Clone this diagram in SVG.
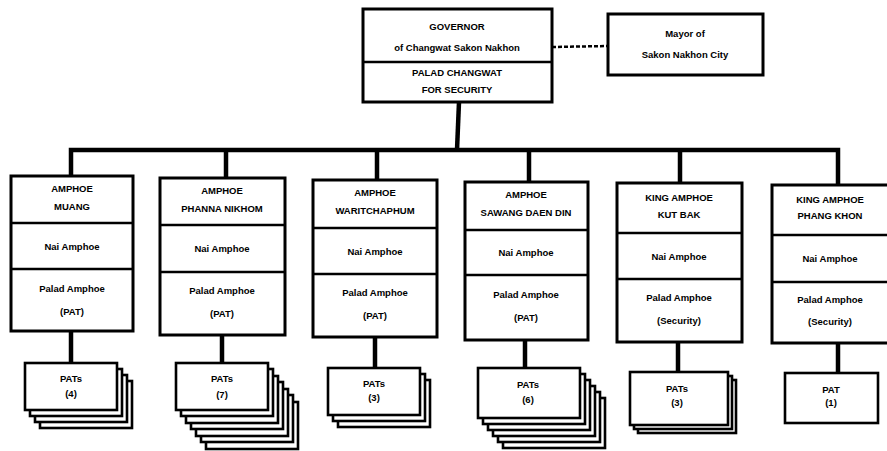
<svg xmlns="http://www.w3.org/2000/svg" width="887" height="451" viewBox="0 0 887 451">
<style>
.box{fill:#fff;stroke:#000;stroke-width:3}
.card{fill:#fff;stroke:#000;stroke-width:2.6}
.div{stroke:#000;stroke-width:2.6;fill:none}
.ln{stroke:#000;stroke-width:4.5;fill:none}
.dash{stroke:#000;stroke-width:2.5;stroke-dasharray:4 2;fill:none}
text{font-family:"Liberation Sans",Arial,sans-serif;font-weight:bold;font-size:9.5px;text-anchor:middle;fill:#000}
</style>
<rect width="887" height="451" fill="#fff"/>
<g id="connectors">
<line class="dash" x1="552" y1="47" x2="608" y2="46"/>
<line class="ln" x1="459" y1="102" x2="457" y2="150"/>
<polyline class="ln" points="71,176 71,150 838,150 838,185"/>
<line class="ln" x1="226" y1="150" x2="226" y2="178"/>
<line class="ln" x1="377" y1="150" x2="377" y2="180"/>
<line class="ln" x1="529" y1="150" x2="529" y2="182"/>
<line class="ln" x1="680" y1="150" x2="680" y2="183"/>
<line class="ln" x1="71" y1="331" x2="71" y2="363"/>
<line class="ln" x1="222" y1="335" x2="222" y2="363"/>
<line class="ln" x1="375" y1="337" x2="375" y2="368"/>
<line class="ln" x1="525" y1="340" x2="525" y2="368"/>
<line class="ln" x1="678" y1="342" x2="678" y2="372"/>
<line class="ln" x1="838" y1="343" x2="838" y2="373"/>
</g>
<g id="governor">
<rect class="box" x="363" y="9" width="189" height="93"/>
<line class="div" x1="363" y1="62" x2="552" y2="62"/>
<text x="457" y="30">GOVERNOR</text>
<text x="457" y="51">of Changwat Sakon Nakhon</text>
<text x="457" y="76">PALAD CHANGWAT</text>
<text x="457" y="93">FOR SECURITY</text>
</g>
<g id="mayor">
<rect class="box" x="608" y="14" width="155" height="61"/>
<text x="685" y="37">Mayor of</text>
<text x="685" y="58">Sakon Nakhon City</text>
</g>
<g id="amphoe-muang">
<rect class="box" x="11" y="176" width="122" height="155"/>
<line class="div" x1="11" y1="223" x2="133" y2="223"/>
<line class="div" x1="11" y1="269" x2="133" y2="269"/>
<text x="72" y="192">AMPHOE</text>
<text x="72" y="210">MUANG</text>
<text x="72" y="250">Nai Amphoe</text>
<text x="72" y="292">Palad Amphoe</text>
<text x="72" y="315">(PAT)</text>
</g>
<g id="amphoe-phanna">
<rect class="box" x="160" y="178" width="125" height="157"/>
<line class="div" x1="160" y1="225" x2="285" y2="225"/>
<line class="div" x1="160" y1="272" x2="285" y2="272"/>
<text x="222" y="194">AMPHOE</text>
<text x="222" y="212">PHANNA NIKHOM</text>
<text x="222" y="252">Nai Amphoe</text>
<text x="222" y="294">Palad Amphoe</text>
<text x="222" y="317">(PAT)</text>
</g>
<g id="amphoe-warit">
<rect class="box" x="313" y="180" width="124" height="157"/>
<line class="div" x1="313" y1="228" x2="437" y2="228"/>
<line class="div" x1="313" y1="274" x2="437" y2="274"/>
<text x="375" y="196">AMPHOE</text>
<text x="375" y="214">WARITCHAPHUM</text>
<text x="375" y="255">Nai Amphoe</text>
<text x="375" y="296">Palad Amphoe</text>
<text x="375" y="319">(PAT)</text>
</g>
<g id="amphoe-sawang">
<rect class="box" x="465" y="182" width="123" height="158"/>
<line class="div" x1="465" y1="230" x2="588" y2="230"/>
<line class="div" x1="465" y1="275" x2="588" y2="275"/>
<text x="526" y="198">AMPHOE</text>
<text x="526" y="216">SAWANG DAEN DIN</text>
<text x="526" y="256">Nai Amphoe</text>
<text x="526" y="298">Palad Amphoe</text>
<text x="526" y="321">(PAT)</text>
</g>
<g id="king-kutbak">
<rect class="box" x="617" y="183" width="125" height="159"/>
<line class="div" x1="617" y1="233" x2="742" y2="233"/>
<line class="div" x1="617" y1="279" x2="742" y2="279"/>
<text x="679" y="201">KING AMPHOE</text>
<text x="679" y="218">KUT BAK</text>
<text x="679" y="260">Nai Amphoe</text>
<text x="679" y="301">Palad Amphoe</text>
<text x="679" y="324">(Security)</text>
</g>
<g id="king-phangkhon">
<rect class="box" x="772" y="185" width="125" height="158"/>
<line class="div" x1="772" y1="235" x2="887" y2="235"/>
<line class="div" x1="772" y1="282" x2="887" y2="282"/>
<text x="830" y="203">KING AMPHOE</text>
<text x="830" y="219">PHANG KHON</text>
<text x="830" y="262">Nai Amphoe</text>
<text x="830" y="303">Palad Amphoe</text>
<text x="830" y="325">(Security)</text>
</g>
<g id="pats-muang">
<rect class="card" x="40" y="381" width="92" height="47"/>
<rect class="card" x="35" y="375" width="92" height="47"/>
<rect class="card" x="30" y="369" width="92" height="47"/>
<rect class="card" x="25" y="363" width="92" height="47"/>
<text x="71" y="382">PATs</text>
<text x="71" y="397">(4)</text>
</g>
<g id="pats-phanna">
<rect class="card" x="206" y="402" width="92" height="47"/>
<rect class="card" x="201" y="395" width="92" height="47"/>
<rect class="card" x="196" y="389" width="92" height="47"/>
<rect class="card" x="191" y="382" width="92" height="47"/>
<rect class="card" x="186" y="376" width="92" height="47"/>
<rect class="card" x="181" y="369" width="92" height="47"/>
<rect class="card" x="176" y="363" width="92" height="47"/>
<text x="222" y="382">PATs</text>
<text x="222" y="398">(7)</text>
</g>
<g id="pats-warit">
<rect class="card" x="338" y="380" width="92" height="47"/>
<rect class="card" x="333" y="374" width="92" height="47"/>
<rect class="card" x="328" y="368" width="92" height="47"/>
<text x="374" y="387">PATs</text>
<text x="374" y="401">(3)</text>
</g>
<g id="pats-sawang">
<rect class="card" x="503" y="398" width="102" height="50"/>
<rect class="card" x="498" y="392" width="102" height="50"/>
<rect class="card" x="493" y="386" width="102" height="50"/>
<rect class="card" x="488" y="380" width="102" height="50"/>
<rect class="card" x="483" y="374" width="102" height="50"/>
<rect class="card" x="478" y="368" width="102" height="50"/>
<text x="528" y="388">PATs</text>
<text x="528" y="403">(6)</text>
</g>
<g id="pats-kutbak">
<rect class="card" x="638" y="380" width="98" height="53"/>
<rect class="card" x="634" y="376" width="98" height="53"/>
<rect class="card" x="630" y="372" width="98" height="53"/>
<text x="677" y="392">PATs</text>
<text x="677" y="406">(3)</text>
</g>
<g id="pat-phangkhon">
<rect class="card" x="785" y="373" width="93" height="50"/>
<text x="831" y="393">PAT</text>
<text x="831" y="406">(1)</text>
</g>
</svg>
